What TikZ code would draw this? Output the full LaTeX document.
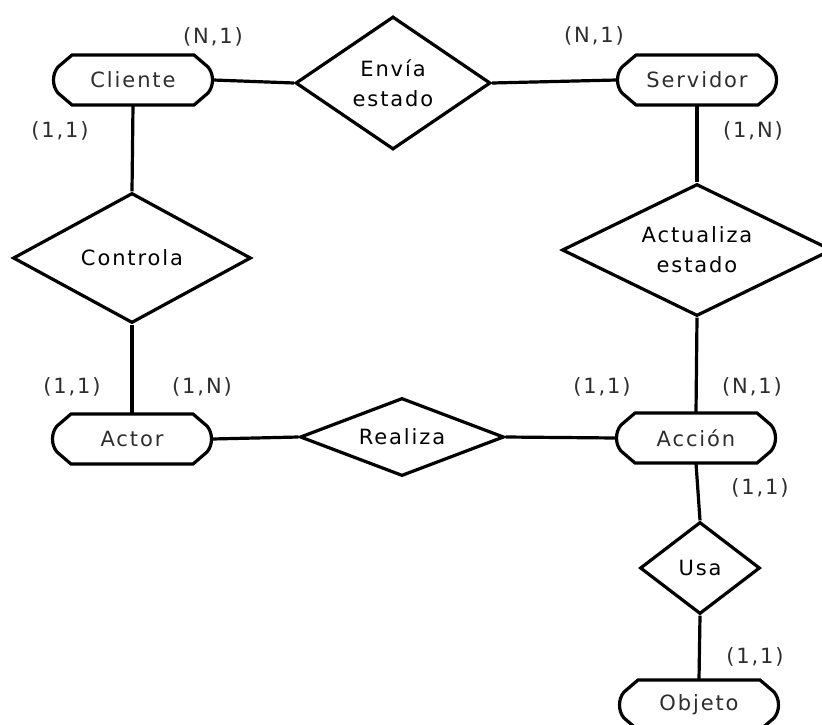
\documentclass[tikz,border=0pt]{standalone}
\usepackage{fontspec}
\setmainfont{DejaVu Sans}
\newfontfamily\erfont[LetterSpace=9]{DejaVu Sans}
\usetikzlibrary{shapes.geometric}

\definecolor{inkgray}{HTML}{2E2E2E}

\tikzset{
  erline/.style={line width=3.2pt, black, line join=miter},
  ertext/.style={font=\erfont\fontsize{21}{30}\selectfont, text=inkgray, align=center},
  entnode/.style={ertext, rectangle, inner sep=0pt, minimum width=160pt, minimum height=50pt},
  relnode/.style={ertext, diamond, draw, erline, inner sep=0pt, shape aspect=2},
  cardlabel/.style={ertext, inner sep=0pt},
}

% entity: named node plus its octagonal outline with bulged ends
\newcommand\erentity[3]{%
  \node[entnode] (#1) at (#2) {#3};
  \draw[erline, shift={(#2)}]
    (-61,-25) -- (61,-25) -- (75,-13)
    .. controls (81,-6) and (81,6) .. (75,13)
    -- (61,25) -- (-61,25) -- (-75,13)
    .. controls (-81,6) and (-81,-6) .. (-75,-13) -- cycle;
}

\begin{document}
\begin{tikzpicture}[x=1pt, y=-1pt]
  \useasboundingbox (0,0) rectangle (822,725);
  \clip (0,0) rectangle (822,725);
  \fill[white] (0,0) rectangle (822,725);

  % entities
  \erentity{cli}{133,80}{Cliente}
  \erentity{serv}{697,80}{Servidor}
  \erentity{actor}{132,439}{Actor}
  \erentity{acc}{696,438}{Acción}
  \erentity{obj}{699,705}{Objeto}

  % relationships
  \node[relnode, minimum width=195pt, minimum height=133pt] (env) at (393,83) {Envía\\estado};
  \node[relnode, minimum width=238pt, minimum height=130pt] (ctl) at (132,258) {Controla};
  \node[relnode, minimum width=270pt, minimum height=132pt] (act) at (697,250) {Actualiza\\estado};
  \node[relnode, minimum width=204pt, minimum height=78pt] (rea) at (402,437) {Realiza};
  \node[relnode, minimum width=120pt, minimum height=92pt] (usa) at (700,568) {Usa};

  % connectors
  \draw[erline] (cli.east) -- (env.west);
  \draw[erline] (env.east) -- (serv.west);
  \draw[erline] (cli.south) -- (ctl.north);
  \draw[erline] (ctl.south) -- (actor.north);
  \draw[erline] (actor.east) -- (rea.west);
  \draw[erline] (rea.east) -- (acc.west);
  \draw[erline] (serv.south) -- (act.north);
  \draw[erline] (act.south) -- (acc.north);
  \draw[erline] (acc.south) -- (usa.north);
  \draw[erline] (usa.south) -- (obj.north);

  % cardinalities
  \node[cardlabel] (c1) at (213,37) {(N,1)};
  \node[cardlabel] (c2) at (594,36) {(N,1)};
  \node[cardlabel] (c3) at (60,131) {(1,1)};
  \node[cardlabel] (c4) at (753,131) {(1,N)};
  \node[cardlabel] (c5) at (72,387) {(1,1)};
  \node[cardlabel] (c6) at (202,387) {(1,N)};
  \node[cardlabel] (c7) at (602,387) {(1,1)};
  \node[cardlabel] (c8) at (752,387) {(N,1)};
  \node[cardlabel] (c9) at (760,488) {(1,1)};
  \node[cardlabel] (c10) at (755,657) {(1,1)};
\end{tikzpicture}
\end{document}
